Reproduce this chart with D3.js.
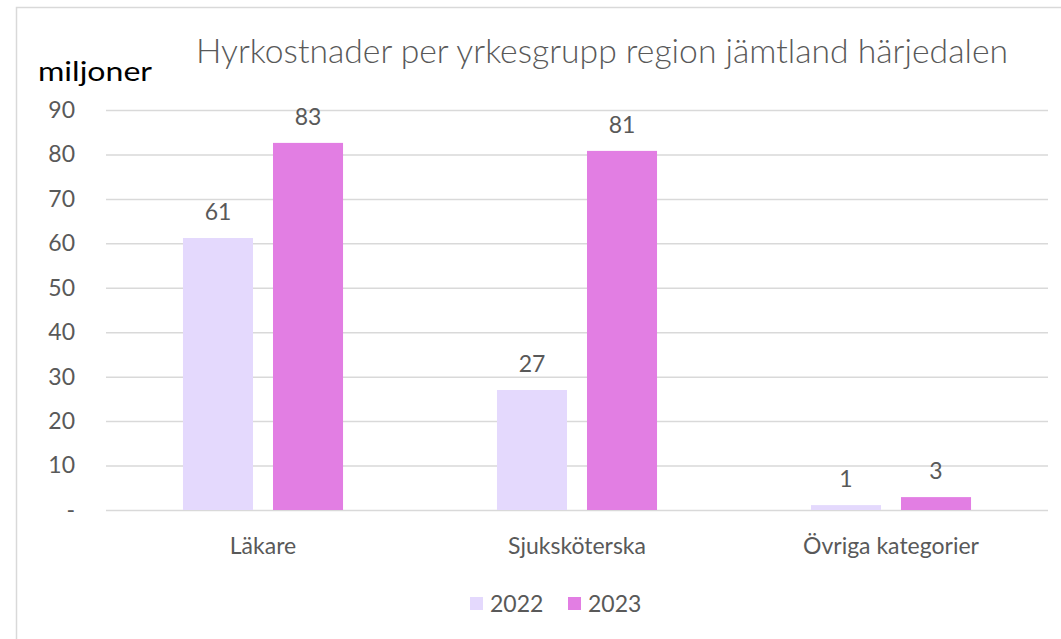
<!DOCTYPE html>
<html>
<head>
<meta charset="utf-8">
<script src="https://cdn.jsdelivr.net/npm/d3@7"></script>
<style>
  body { margin: 0; background: #fff; }
  text { font-family: Lato, "Open Sans", sans-serif; }
</style>
</head>
<body>
<div id="container"></div>
<script>
/* CONSTANTS AND GLOBALS */
const width = 1061,
  height = 639,
  margin = { top: 110, bottom: 129, left: 106, right: 13 };

// data (miljoner)
const categories = ["Läkare", "Sjuksköterska", "Övriga kategorier"];
const years = ["2022", "2023"];
const values2022 = [61.2, 27.0, 1.1];
const values2023 = [82.6, 80.8, 2.9];
const labels2022 = ["61", "27", "1"];
const labels2023 = ["83", "81", "3"];
const yTicks = [0, 10, 20, 30, 40, 50, 60, 70, 80, 90];

const colors = { "2022": "#e4d9fd", "2023": "#e27ee3" };
const textGray = "#595959";

const rows = categories.map((c, i) => ({
  cat: c,
  vals: [
    { year: "2022", v: values2022[i], label: labels2022[i] },
    { year: "2023", v: values2023[i], label: labels2023[i] }
  ]
}));

const svg = d3.select("#container")
  .append("svg")
  .attr("width", width)
  .attr("height", height);

// chart frame
svg.append("rect")
  .attr("x", 16.5).attr("y", 7.5)
  .attr("width", width).attr("height", height)
  .attr("fill", "none")
  .attr("stroke", "#d9d9d9")
  .attr("stroke-width", 1.5);

// + SCALES
const xScale = d3.scaleBand()
  .domain(categories)
  .range([margin.left, width - margin.right]);

const xInner = d3.scaleBand()
  .domain(years)
  .range([0, xScale.bandwidth()])
  .paddingInner(0.222)
  .paddingOuter(0.855);

const yScale = d3.scaleLinear()
  .domain([0, 90])
  .range([height - margin.bottom, margin.top]);

// + AXES
const yAxis = d3.axisLeft(yScale)
  .tickValues(yTicks)
  .tickSize(-(width - margin.right - margin.left))
  .tickPadding(31)
  .tickFormat(d => d === 0 ? "-" : d);

const yAxisGroup = svg.append("g")
  .attr("transform", `translate(${margin.left}, 0)`)
  .call(yAxis);
yAxisGroup.select(".domain").remove();
yAxisGroup.selectAll(".tick line")
  .attr("stroke", "#d9d9d9")
  .attr("stroke-width", 1.5);
yAxisGroup.selectAll(".tick text")
  .attr("fill", textGray)
  .style("font-size", "23px");

// category labels
svg.append("g")
  .selectAll("text")
  .data(categories)
  .join("text")
  .attr("x", d => xScale(d) + xScale.bandwidth() / 2)
  .attr("y", 554)
  .attr("text-anchor", "middle")
  .attr("fill", textGray)
  .style("font-size", "23px")
  .text(d => d);

// bars
const groups = svg.append("g")
  .selectAll("g")
  .data(rows)
  .join("g")
  .attr("transform", d => `translate(${xScale(d.cat)}, 0)`);

groups.selectAll("rect")
  .data(d => d.vals)
  .join("rect")
  .attr("x", d => xInner(d.year))
  .attr("width", xInner.bandwidth())
  .attr("y", d => yScale(d.v))
  .attr("height", d => yScale(0) - yScale(d.v))
  .attr("fill", d => colors[d.year]);

groups.selectAll("text")
  .data(d => d.vals)
  .join("text")
  .attr("x", d => xInner(d.year) + xInner.bandwidth() / 2)
  .attr("y", d => yScale(d.v) - 18)
  .attr("text-anchor", "middle")
  .attr("fill", textGray)
  .style("font-size", "23px")
  .text(d => d.label);

// title
svg.append("text")
  .attr("x", 602)
  .attr("y", 63)
  .attr("text-anchor", "middle")
  .attr("fill", textGray)
  .attr("textLength", 812)
  .attr("lengthAdjust", "spacingAndGlyphs")
  .style("font-size", "33px")
  .style("font-weight", 300)
  .text("Hyrkostnader per yrkesgrupp region jämtland härjedalen");

// unit label
svg.append("text")
  .attr("x", 38)
  .attr("y", 81)
  .attr("fill", "#000")
  .attr("textLength", 114)
  .attr("lengthAdjust", "spacingAndGlyphs")
  .style("font-size", "27px")
  .text("miljoner");

// legend
const legend = svg.append("g")
  .selectAll("g")
  .data(years)
  .join("g")
  .attr("transform", (d, i) => `translate(${470 + i * 98}, 0)`);

legend.append("rect")
  .attr("x", 0).attr("y", 597)
  .attr("width", 13).attr("height", 13)
  .attr("fill", d => colors[d]);

legend.append("text")
  .attr("x", 20)
  .attr("y", 612)
  .attr("fill", textGray)
  .style("font-size", "23px")
  .text(d => d);
</script>
</body>
</html>
